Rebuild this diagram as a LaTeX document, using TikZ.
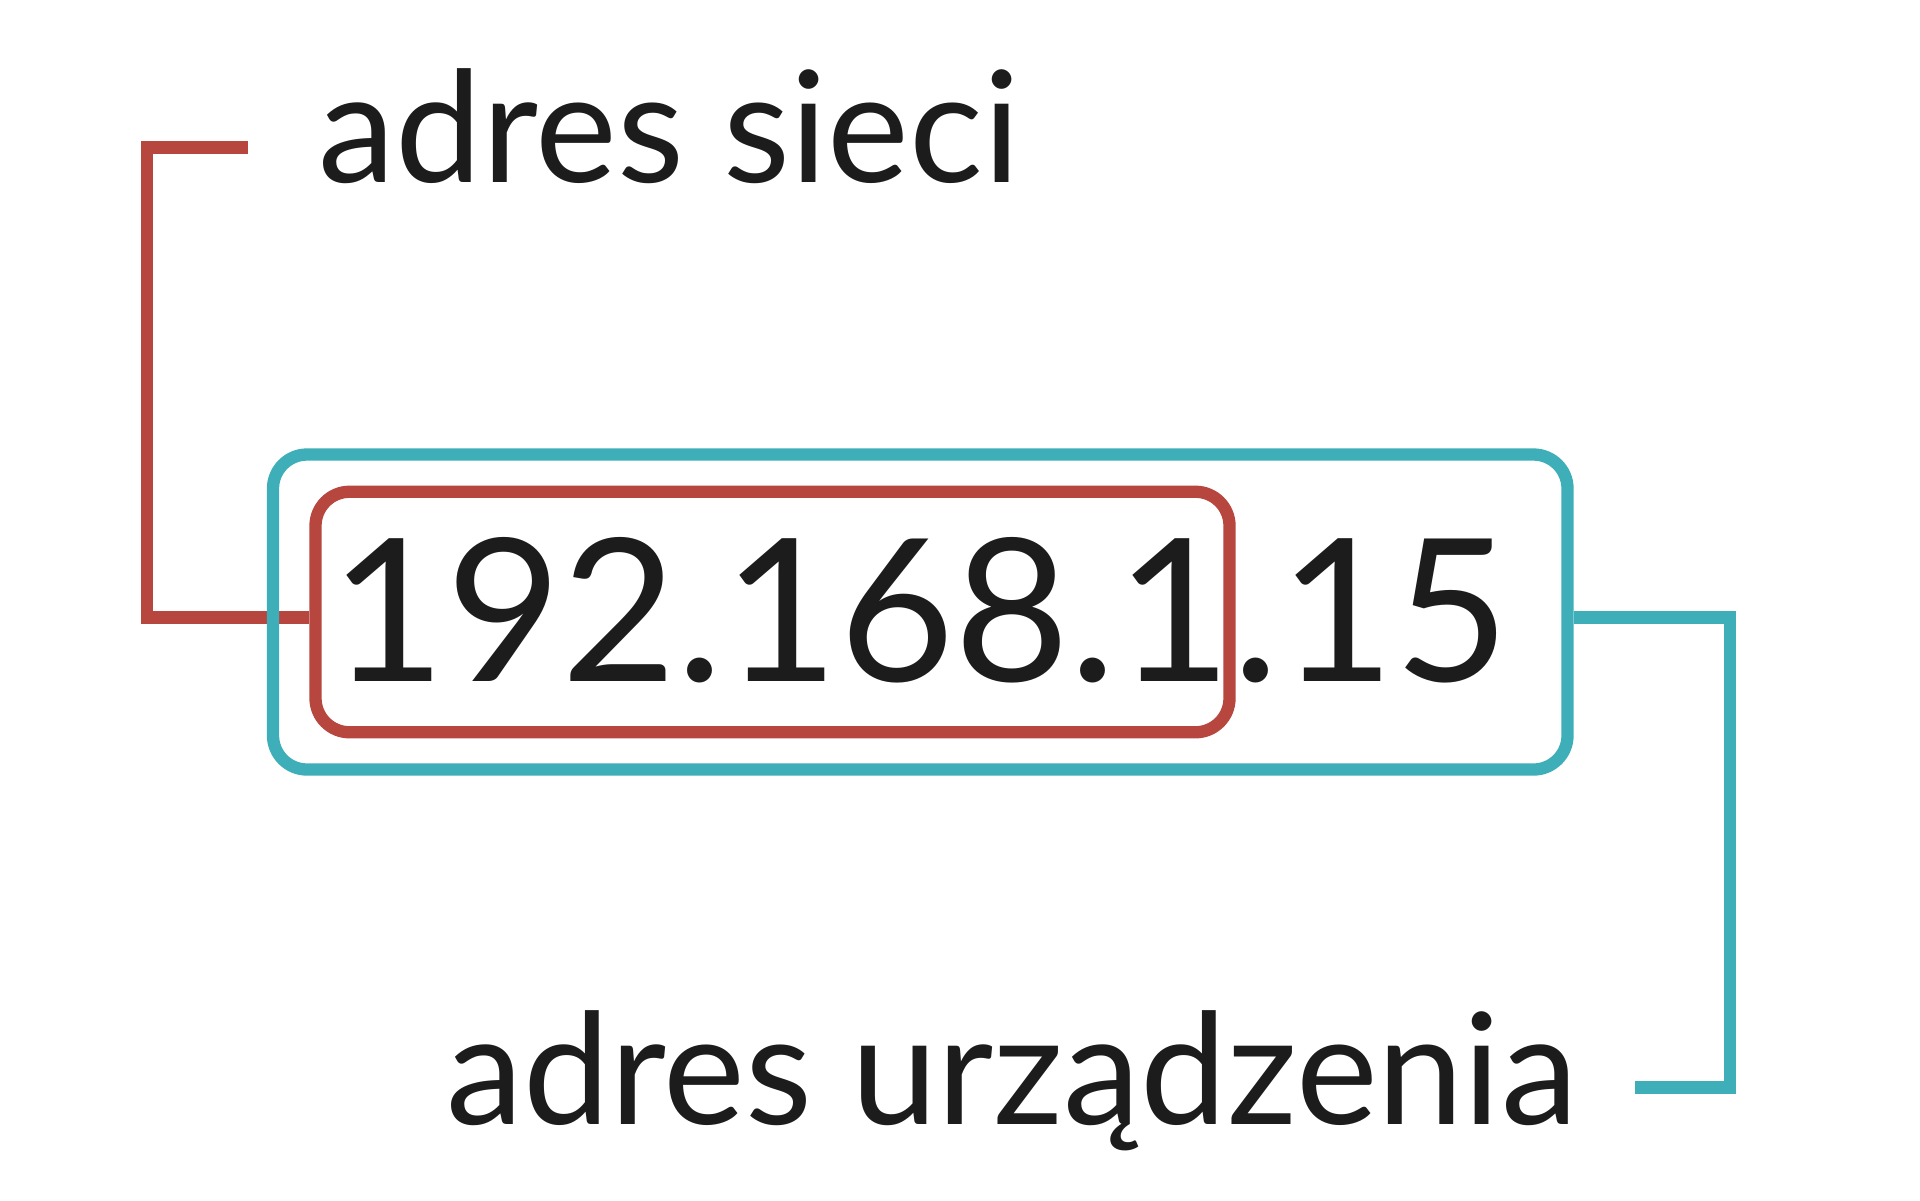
\documentclass[tikz,border=0pt]{standalone}
\usepackage{fontspec}
\setmainfont{Lato}
\usetikzlibrary{calc}
\definecolor{netred}{RGB}{183,70,62}
\definecolor{hostteal}{RGB}{62,174,184}
\definecolor{ink}{RGB}{28,28,28}

\begin{document}
\begin{tikzpicture}
  [box/.style={draw,rounded corners=0.34cm,line width=3.5pt,inner sep=0pt},
   lbl/.style={inner sep=0pt,anchor=base west,text=ink,font=\fontsize{44}{50}\selectfont},
   bracket/.style={line width=3.5pt}
  ]
  \useasboundingbox (0,0) rectangle (19.2,-12);

  % network part
  \node[box,draw=netred,minimum width=9.14cm,minimum height=2.405cm] (net) at (7.725,-6.12) {};
  \coordinate (netend) at (2.48,-1.475);
  \draw[bracket,netred] (netend) -| ($(net.west)+(-1.625,-0.055)$) -- ($(net.west)+(0,-0.055)$);

  % whole address
  \node[box,draw=hostteal,minimum width=12.945cm,minimum height=3.15cm] (host) at (9.2025,-6.12) {};
  \coordinate (hostend) at (16.35,-10.875);
  \draw[bracket,hostteal] ($(host.east)+(0,-0.055)$) -| ($(hostend)+(0.95,0)$) -- (hostend);

  \node[lbl,font=\fontsize{56.6}{60}\selectfont] (ip) at (3.30,-6.81) {192.168.1.15};

  % labels
  \node[lbl] (netlbl) at (3.18,-1.82) {adres sieci};
  \node[lbl] (hostlbl) at (4.46,-11.24) {adres urządzenia};

\end{tikzpicture}
\end{document}
